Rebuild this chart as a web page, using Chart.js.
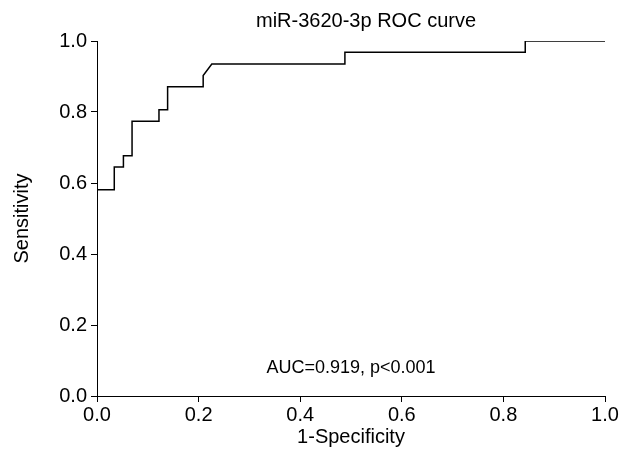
<!DOCTYPE html>
<html>
<head>
<meta charset="utf-8">
<script src="https://cdn.jsdelivr.net/npm/chart.js@4/dist/chart.umd.min.js"></script>
<style>
  html, body { margin: 0; padding: 0; background: #fff; }
  #wrap { width: 622px; height: 463px; }
</style>
</head>
<body>
<div id="wrap"><canvas id="rocChart" width="622" height="463"></canvas></div>
<script>
// ROC step points
const fpr = [0, 0.034, 0.034, 0.052, 0.052, 0.069, 0.069, 0.122, 0.122, 0.139, 0.139, 0.209, 0.209, 0.226, 0.488, 0.488, 0.843, 0.843, 1.0];
const tpr = [0.581, 0.581, 0.645, 0.645, 0.677, 0.677, 0.774, 0.774, 0.806, 0.806, 0.871, 0.871, 0.903, 0.935, 0.935, 0.968, 0.968, 1.0, 1.0];
const tickValues = [0, 0.2, 0.4, 0.6, 0.8, 1.0];

const chartTitle = 'miR-3620-3p ROC curve';
const aucLabel = 'AUC=0.919, p<0.001';

const FONT = '"Liberation Sans", Arial, sans-serif';

// Draw the title and AUC note as plain canvas text
const textPlugin = {
  id: 'textPlugin',
  afterDraw(chart) {
    const c = chart.ctx;
    const area = chart.chartArea;
    c.save();
    c.fillStyle = '#000';
    c.textAlign = 'center';
    c.textBaseline = 'middle';
    c.font = '20px ' + FONT;
    c.fillText(chartTitle, 366, 21);
    c.font = '18px ' + FONT;
    c.fillText(aucLabel, (area.left + area.right) / 2, 368);
    c.restore();
  }
};

const ctx = document.getElementById('rocChart').getContext('2d');
const chart = new Chart(ctx, {
  type: 'scatter',
  data: {
    datasets: [{
      data: fpr.map((x, i) => ({ x: x, y: tpr[i] })),
      showLine: true,
      borderColor: '#000',
      borderWidth: 1.5,
      pointRadius: 0,
      tension: 0,
      fill: false
    }]
  },
  options: {
    responsive: false,
    animation: false,
    layout: { padding: { top: 41, right: 17, left: 0, bottom: 0 } },
    plugins: {
      legend: { display: false },
      tooltip: { enabled: false },
      title: { display: false }
    },
    scales: {
      x: {
        type: 'linear',
        min: 0,
        max: 1,
        afterBuildTicks(scale) { scale.ticks = tickValues.map(v => ({ value: v })); },
        afterFit(scale) { scale.height = 67; },
        grid: { drawOnChartArea: false, drawTicks: true, tickLength: 6, color: '#000', lineWidth: 1 },
        border: { color: '#000', width: 1 },
        ticks: {
          color: '#000',
          font: { family: FONT, size: 20 },
          padding: 1,
          maxRotation: 0,
          callback: v => v.toFixed(1)
        },
        title: {
          display: true,
          text: '1-Specificity',
          color: '#000',
          font: { family: FONT, size: 20 },
          padding: { top: 0, bottom: 14 }
        }
      },
      y: {
        type: 'linear',
        min: 0,
        max: 1,
        afterBuildTicks(scale) { scale.ticks = tickValues.map(v => ({ value: v })); },
        afterFit(scale) { scale.width = 97; },
        grid: { drawOnChartArea: false, drawTicks: true, tickLength: 6, color: '#000', lineWidth: 1 },
        border: { color: '#000', width: 1 },
        ticks: {
          color: '#000',
          font: { family: FONT, size: 20 },
          padding: 4,
          callback: v => v.toFixed(1)
        },
        title: {
          display: true,
          text: 'Sensitivity',
          color: '#000',
          font: { family: FONT, size: 20 },
          padding: { top: 10, bottom: 0 }
        }
      }
    }
  },
  plugins: [textPlugin]
});
</script>
</body>
</html>
